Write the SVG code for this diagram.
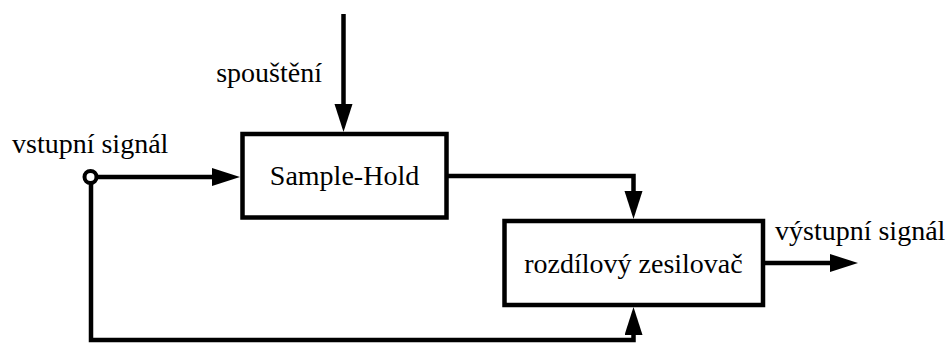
<svg xmlns="http://www.w3.org/2000/svg" width="949" height="343" viewBox="0 0 949 343">
  <style>
    .box { fill: #fff; stroke: #000; stroke-width: 4.5; }
    .wire { fill: none; stroke: #000; stroke-width: 4.5; stroke-linejoin: miter; }
  </style>
  <defs>
    <marker id="arrow" markerUnits="userSpaceOnUse" markerWidth="30" markerHeight="20" refX="0" refY="9" orient="auto">
      <path d="M0,0 L28,9 L0,18 z" fill="#000"/>
    </marker>
  </defs>

  <rect width="949" height="343" fill="#fff"/>

  <g id="connectors">
    <!-- trigger into Sample-Hold -->
    <line class="wire" x1="343.5" y1="14" x2="343.5" y2="104" marker-end="url(#arrow)"/>
    <!-- input into Sample-Hold -->
    <line class="wire" x1="96" y1="177" x2="212" y2="177" marker-end="url(#arrow)"/>
    <!-- Sample-Hold output into amplifier top -->
    <polyline class="wire" points="447,176 633.5,176 633.5,191" marker-end="url(#arrow)"/>
    <!-- input feedback into amplifier bottom -->
    <polyline class="wire" points="91,183 91,340 633.5,340 633.5,335" marker-end="url(#arrow)"/>
    <!-- amplifier output -->
    <line class="wire" x1="765" y1="263" x2="830" y2="263" marker-end="url(#arrow)"/>
  </g>

  <g font-family="Liberation Serif" font-size="28" fill="#000">
    <g id="input-terminal">
      <circle cx="90.5" cy="177" r="6" fill="#fff" stroke="#000" stroke-width="4"/>
      <text x="12" y="153">vstupní signál</text>
    </g>

    <g id="trigger-label">
      <text x="322" y="82" text-anchor="end">spouštění</text>
    </g>

    <g id="sample-hold">
      <rect class="box" x="242.5" y="134" width="204" height="83.5"/>
      <text x="344.5" y="185" text-anchor="middle">Sample-Hold</text>
    </g>

    <g id="diff-amplifier">
      <rect class="box" x="504.5" y="221" width="258.5" height="84"/>
      <text x="633.5" y="273" text-anchor="middle">rozdílový zesilovač</text>
    </g>

    <g id="output-label">
      <text x="775" y="240">výstupní signál</text>
    </g>
  </g>
</svg>
